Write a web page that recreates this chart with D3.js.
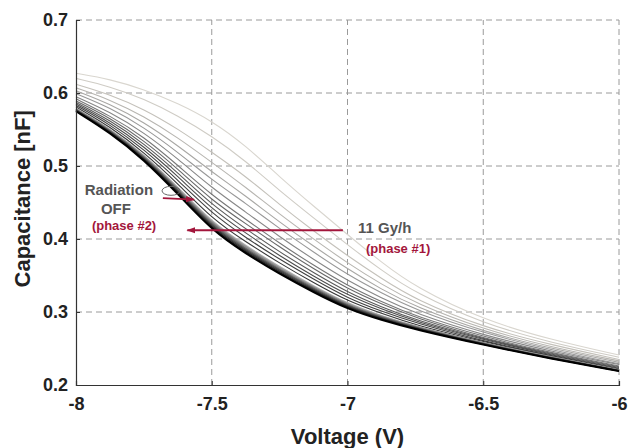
<!DOCTYPE html>
<html>
<head>
<meta charset="utf-8">
<script src="https://cdn.jsdelivr.net/npm/d3@7"></script>
<style>
body { margin: 0; background: #fff; }
text { font-family: "Liberation Sans", Arial, sans-serif; font-weight: bold; }
</style>
</head>
<body>
<script>
// bias voltage sweep (V)
var voltage = [-8, -7.875, -7.75, -7.625, -7.5, -7.375, -7.25, -7.125, -7, -6.875, -6.75, -6.5, -6.25, -6];

// phase #1 : 11 Gy/h, first sweep (right) to last sweep (left), capacitance in nF
var phase1Curves = [
    [0.627, 0.619, 0.605, 0.586, 0.562, 0.528, 0.485, 0.445, 0.406, 0.368, 0.334, 0.289, 0.262, 0.241],
    [0.620, 0.609, 0.592, 0.569, 0.541, 0.507, 0.466, 0.429, 0.392, 0.357, 0.326, 0.284, 0.258, 0.238],
    [0.612, 0.598, 0.578, 0.551, 0.519, 0.486, 0.447, 0.411, 0.377, 0.346, 0.317, 0.279, 0.255, 0.235],
    [0.607, 0.591, 0.568, 0.539, 0.505, 0.471, 0.434, 0.400, 0.367, 0.338, 0.312, 0.276, 0.252, 0.233],
    [0.603, 0.585, 0.560, 0.528, 0.492, 0.459, 0.423, 0.390, 0.359, 0.331, 0.307, 0.273, 0.250, 0.231],
    [0.599, 0.580, 0.553, 0.519, 0.481, 0.449, 0.414, 0.382, 0.351, 0.326, 0.303, 0.271, 0.248, 0.229],
    [0.595, 0.574, 0.546, 0.510, 0.470, 0.437, 0.403, 0.372, 0.343, 0.319, 0.298, 0.268, 0.246, 0.228],
    [0.592, 0.569, 0.540, 0.501, 0.460, 0.427, 0.394, 0.364, 0.336, 0.314, 0.294, 0.266, 0.244, 0.226],
    [0.589, 0.566, 0.535, 0.496, 0.453, 0.421, 0.389, 0.359, 0.332, 0.311, 0.292, 0.264, 0.243, 0.225],
    [0.587, 0.563, 0.531, 0.491, 0.447, 0.414, 0.382, 0.354, 0.327, 0.307, 0.289, 0.263, 0.242, 0.224],
    [0.585, 0.560, 0.527, 0.486, 0.441, 0.408, 0.377, 0.349, 0.323, 0.304, 0.287, 0.262, 0.241, 0.223],
    [0.583, 0.557, 0.523, 0.481, 0.435, 0.402, 0.372, 0.345, 0.319, 0.301, 0.285, 0.260, 0.240, 0.222],
    [0.581, 0.554, 0.519, 0.476, 0.428, 0.396, 0.367, 0.340, 0.315, 0.298, 0.282, 0.259, 0.239, 0.221]
];

// phase #2 : radiation off
var phase2Curves = [
    [0.5787, 0.5513, 0.5159, 0.4709, 0.4228, 0.3907, 0.3616, 0.3355, 0.3114, 0.2946, 0.2801, 0.2575, 0.2379, 0.2206],
    [0.5781, 0.5504, 0.5148, 0.4695, 0.4210, 0.3890, 0.3600, 0.3341, 0.3102, 0.2937, 0.2795, 0.2570, 0.2376, 0.2203],
    [0.5775, 0.5495, 0.5136, 0.4679, 0.4193, 0.3871, 0.3583, 0.3327, 0.3089, 0.2928, 0.2788, 0.2566, 0.2373, 0.2201],
    [0.5769, 0.5487, 0.5125, 0.4665, 0.4174, 0.3854, 0.3567, 0.3313, 0.3076, 0.2919, 0.2781, 0.2562, 0.2369, 0.2198],
    [0.5763, 0.5478, 0.5113, 0.4649, 0.4156, 0.3836, 0.3552, 0.3298, 0.3064, 0.2909, 0.2773, 0.2558, 0.2366, 0.2195],
    [0.5756, 0.5469, 0.5101, 0.4636, 0.4138, 0.3818, 0.3535, 0.3284, 0.3052, 0.2899, 0.2767, 0.2554, 0.2363, 0.2193],
    [0.575, 0.546, 0.509, 0.462, 0.412, 0.380, 0.352, 0.327, 0.304, 0.289, 0.276, 0.255, 0.236, 0.219]
];

var xTicks = [-8, -7.5, -7, -6.5, -6];
var yTicks = [0.2, 0.3, 0.4, 0.5, 0.6, 0.7];

// line colours, light grey (early) to black (late)
var phase1Colors = ["#d9d6cf", "#cfccc5", "#c4c1ba", "#b7b5b0", "#a8a7a4", "#989898", "#878787",
                    "#777777", "#686868", "#5a5a5a", "#4d4d4d", "#414141", "#363636"];
var phase2Colors = ["#b0b0b0", "#909090", "#707070", "#505050", "#343434", "#1a1a1a", "#000000"];

var red = "#a3163c";

var width = 641, height = 448;
var margin = {left: 76, right: 22, top: 20, bottom: 63};

var svg = d3.select("body").append("svg")
    .attr("width", width)
    .attr("height", height);

var x = d3.scaleLinear().domain([-8, -6]).range([margin.left, width - margin.right]);
var y = d3.scaleLinear().domain([0.2, 0.7]).range([height - margin.bottom, margin.top]);

//dashed grid, includes the top and right frame
var grid = svg.append("g").attr("class", "grid");
grid.selectAll(".gx")
    .data(xTicks.slice(1))
    .enter().append("line")
    .attr("x1", function(d){ return x(d); })
    .attr("x2", function(d){ return x(d); })
    .attr("y1", y(0.2)).attr("y2", y(0.7));
grid.selectAll(".gy")
    .data(yTicks.slice(1))
    .enter().append("line")
    .attr("y1", function(d){ return y(d); })
    .attr("y2", function(d){ return y(d); })
    .attr("x1", x(-8)).attr("x2", x(-6));
grid.selectAll("line")
    .attr("stroke", "#9a9a9a")
    .attr("stroke-width", 1)
    .attr("stroke-dasharray", "6,4");

var line = d3.line()
    .x(function(d, i){ return x(voltage[i]); })
    .y(function(d){ return y(d); })
    .curve(d3.curveBasis);

var plot = svg.append("g");
plot.selectAll(".p1")
    .data(phase1Curves)
    .enter().append("path")
    .attr("class", "p1")
    .attr("d", line)
    .attr("fill", "none")
    .attr("stroke", function(d, i){ return phase1Colors[i]; })
    .attr("stroke-width", 1.1);

plot.selectAll(".p2")
    .data(phase2Curves)
    .enter().append("path")
    .attr("class", "p2")
    .attr("d", line)
    .attr("fill", "none")
    .attr("stroke", function(d, i){ return phase2Colors[i]; })
    .attr("stroke-width", function(d, i){ return i == phase2Curves.length - 1 ? 2 : 1.5; });

//axes
var xAxis = svg.append("g")
    .attr("transform", "translate(0," + y(0.2) + ")")
    .call(d3.axisBottom(x).tickValues(xTicks).tickSize(-4).tickPadding(12));
var yAxis = svg.append("g")
    .attr("transform", "translate(" + x(-8) + ",0)")
    .call(d3.axisLeft(y).tickValues(yTicks).tickSize(-4).tickPadding(8).tickFormat(d3.format(".1f")));

[xAxis, yAxis].forEach(function(a){
    a.select(".domain").attr("stroke", "#333").attr("stroke-width", 1.2);
    a.selectAll(".tick line").attr("stroke", "#333");
    a.selectAll(".tick text")
        .attr("fill", "#222")
        .style("font-size", "18px")
        .style("font-family", "'Liberation Sans', Arial, sans-serif")
        .style("font-weight", "bold");
});
xAxis.selectAll(".tick text").text(function(d){ return String(d); });

svg.append("text")
    .attr("x", x(-7))
    .attr("y", 444)
    .attr("text-anchor", "middle")
    .attr("fill", "#222")
    .style("font-size", "22px")
    .text("Voltage (V)");

svg.append("text")
    .attr("transform", "translate(30," + y(0.455) + ") rotate(-90)")
    .attr("text-anchor", "middle")
    .attr("fill", "#222")
    .style("font-size", "22px")
    .text("Capacitance [nF]");

//annotations
var defs = svg.append("defs");
defs.append("marker")
    .attr("id", "head")
    .attr("viewBox", "0 0 10 10")
    .attr("refX", 9).attr("refY", 5)
    .attr("markerWidth", 5).attr("markerHeight", 5)
    .attr("orient", "auto")
    .append("path")
    .attr("d", "M0,1.5L10,5L0,8.5Z")
    .attr("fill", red);

var note = svg.append("g");

note.append("ellipse")
    .attr("cx", x(-7.65)).attr("cy", y(0.466))
    .attr("rx", 9).attr("ry", 4.5)
    .attr("fill", "none")
    .attr("stroke", "#666")
    .attr("stroke-width", 1);

note.append("line")
    .attr("x1", x(-7.68)).attr("y1", y(0.456))
    .attr("x2", x(-7.565)).attr("y2", y(0.454))
    .attr("stroke", red).attr("stroke-width", 1.8)
    .attr("marker-end", "url(#head)");

note.append("line")
    .attr("x1", x(-7.017)).attr("y1", y(0.412))
    .attr("x2", x(-7.59)).attr("y2", y(0.412))
    .attr("stroke", red).attr("stroke-width", 1.8)
    .attr("marker-end", "url(#head)");

note.append("text")
    .attr("x", x(-7.842)).attr("y", y(0.460))
    .attr("text-anchor", "middle")
    .attr("fill", "#555")
    .style("font-size", "15px")
    .text("Radiation");
note.append("text")
    .attr("x", x(-7.853)).attr("y", y(0.434))
    .attr("text-anchor", "middle")
    .attr("fill", "#555")
    .style("font-size", "15px")
    .text("OFF");
note.append("text")
    .attr("x", x(-7.823)).attr("y", y(0.412))
    .attr("text-anchor", "middle")
    .attr("fill", red)
    .style("font-size", "13px")
    .text("(phase #2)");

note.append("text")
    .attr("x", x(-6.961)).attr("y", y(0.408))
    .attr("fill", "#555")
    .style("font-size", "15px")
    .text("11 Gy/h");
note.append("text")
    .attr("x", x(-6.932)).attr("y", y(0.381))
    .attr("fill", red)
    .style("font-size", "13px")
    .text("(phase #1)");
</script>
</body>
</html>
